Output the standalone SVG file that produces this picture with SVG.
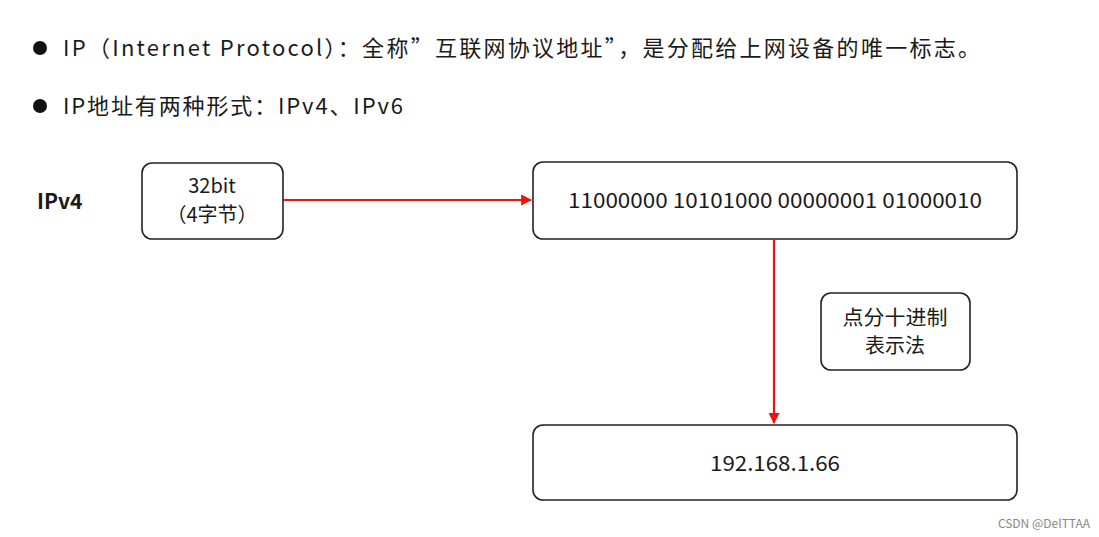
<svg xmlns="http://www.w3.org/2000/svg" width="1099" height="537" viewBox="0 0 1099 537">
<defs>
<style>
text{font-family:"Noto Sans CJK SC","Noto Sans",sans-serif;fill:#1a1a1a}
.b{fill:#fff;stroke:#222;stroke-width:1.6}
.t{font-size:20px;text-anchor:middle}
.c{stroke:#f01010;stroke-width:2.2;fill:none}
</style>
<marker id="ah" viewBox="0 0 10 10" refX="9" refY="5" markerWidth="5" markerHeight="5" orient="auto"><path d="M0,0L10,5L0,10z" fill="#f01010"/></marker>
</defs>
<rect width="1099" height="537" fill="#fff"/>
<circle cx="40" cy="48" r="7" fill="#111"/>
<text x="63" y="56" font-size="22" textLength="917" lengthAdjust="spacing">IP（Internet Protocol）：全称”互联网协议地址”，是分配给上网设备的唯一标志。</text>
<circle cx="40" cy="106" r="7" fill="#111"/>
<text x="63" y="114" font-size="22" textLength="340" lengthAdjust="spacing">IP地址有两种形式：IPv4、IPv6</text>
<text x="37" y="209" font-size="21" font-weight="bold">IPv4</text>
<g id="connectors">
<line class="c" x1="284" y1="200" x2="531" y2="200" marker-end="url(#ah)"/>
<line class="c" x1="774" y1="240" x2="774" y2="423" marker-end="url(#ah)"/>
</g>
<g id="n1"><rect class="b" x="142" y="163" width="141" height="76" rx="10"/><text class="t" x="212" y="193">32bit</text><text class="t" x="212" y="222">（4字节）</text></g>
<g id="n2"><rect class="b" x="533" y="162" width="484" height="77" rx="10"/><text class="t" x="775" y="208" textLength="414" lengthAdjust="spacingAndGlyphs" style="font-size:21px">11000000 10101000 00000001 01000010</text></g>
<g id="n3"><rect class="b" x="821" y="293" width="149" height="77" rx="10"/><text class="t" x="895" y="325" textLength="105" lengthAdjust="spacingAndGlyphs">点分十进制</text><text class="t" x="895" y="353">表示法</text></g>
<g id="n4"><rect class="b" x="533" y="425" width="484" height="75" rx="10"/><text class="t" x="775" y="471" textLength="130" lengthAdjust="spacingAndGlyphs" style="font-size:21px">192.168.1.66</text></g>
<text x="1090" y="528" font-size="12" text-anchor="end" style="fill:#888">CSDN @DelTTAA</text>
</svg>
